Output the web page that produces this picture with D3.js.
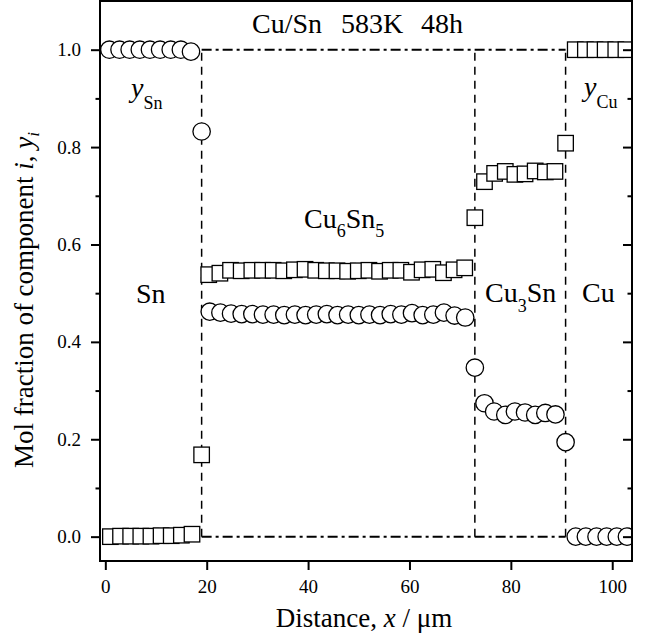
<!DOCTYPE html>
<html>
<head>
<meta charset="utf-8">
<script src="https://cdn.jsdelivr.net/npm/d3@7"></script>
<style>
  html, body { margin: 0; padding: 0; background: #fff; }
  svg { display: block; }
  text { font-family: "Liberation Serif", "Times New Roman", serif; fill: #000; }
</style>
</head>
<body>
<svg id="chart" width="652" height="638"></svg>
<script>
// ---- data ----
const xTicks = [0, 20, 40, 60, 80, 100];
const yTicks = [0.0, 0.2, 0.4, 0.6, 0.8, 1.0];
const yMinorTicks = [0.1, 0.3, 0.5, 0.7, 0.9];

const boundaries = [19.0, 72.9, 90.8];

// y_Sn (circles)
const snX = [0.8, 2.8, 4.8, 6.8, 8.8, 10.8, 12.9, 14.9, 16.9,
  19.0,
  20.6, 22.7, 24.8, 26.9, 29.0, 31.1, 33.2, 35.3, 37.4, 39.5, 41.6, 43.7, 45.8, 47.9, 50.0,
  52.1, 54.2, 56.3, 58.4, 60.5, 62.6, 64.7, 66.8, 68.9, 71.0,
  72.9,
  74.8, 76.7, 78.9, 80.8, 82.8, 84.8, 86.8, 88.8,
  90.8,
  92.8, 94.8, 96.9, 98.9, 100.9, 102.9];
const snY = [1.000, 1.000, 1.000, 1.000, 1.000, 1.000, 1.000, 1.000, 0.996,
  0.832,
  0.462, 0.460, 0.458, 0.457, 0.457, 0.456, 0.456, 0.455, 0.456, 0.455, 0.456, 0.457, 0.455, 0.456, 0.455,
  0.456, 0.455, 0.457, 0.456, 0.459, 0.455, 0.456, 0.460, 0.454, 0.450,
  0.347,
  0.274, 0.257, 0.250, 0.257, 0.255, 0.250, 0.254, 0.251,
  0.194,
  0.000, 0.000, 0.000, 0.000, 0.000, 0.000];

// y_Cu (squares)
const cuX = [1.0, 3.0, 5.0, 7.0, 9.0, 11.0, 13.0, 15.0, 17.1,
  19.0,
  20.4, 22.6, 24.7, 26.8, 28.9, 31.0, 33.1, 35.2, 37.3, 39.4, 41.5, 43.6, 45.7, 47.8, 49.9,
  52.0, 54.1, 56.2, 58.3, 60.4, 62.5, 64.6, 66.7, 68.8, 70.9,
  72.9,
  74.8, 76.8, 78.9, 80.8, 82.8, 84.8, 86.8, 88.7,
  90.8,
  92.7, 94.7, 96.6, 98.6, 100.7, 102.7];
const cuY = [0.000, 0.001, 0.001, 0.001, 0.001, 0.002, 0.002, 0.003, 0.005,
  0.168,
  0.538, 0.541, 0.547, 0.546, 0.547, 0.547, 0.547, 0.546, 0.548, 0.549, 0.547, 0.546, 0.546, 0.545, 0.546,
  0.547, 0.545, 0.547, 0.547, 0.543, 0.548, 0.549, 0.542, 0.548, 0.552,
  0.655,
  0.729, 0.746, 0.750, 0.744, 0.745, 0.751, 0.749, 0.750,
  0.808,
  1.000, 1.000, 1.000, 1.000, 1.000, 1.000];

// ---- layout ----
const svg = d3.select("#chart");
const L = 100, R = 632, T = 1, B = 561;
const x = d3.scaleLinear().domain([-1.05, 103.9]).range([L, R]);
const y = d3.scaleLinear().domain([-0.05, 1.1]).range([B, T]);

svg.append("defs").append("clipPath").attr("id", "clip")
  .append("rect").attr("x", L).attr("y", T).attr("width", R - L).attr("height", B - T);

// reference lines
const refG = svg.append("g").attr("clip-path", "url(#clip)");
[0, 1].forEach(v => {
  refG.append("line")
    .attr("x1", x(boundaries[0])).attr("x2", x(boundaries[2]))
    .attr("y1", y(v)).attr("y2", y(v))
    .attr("stroke", "#000").attr("stroke-width", 2)
    .attr("stroke-dasharray", "10,4,3,4");
});
boundaries.forEach(b => {
  refG.append("line")
    .attr("x1", x(b)).attr("x2", x(b))
    .attr("y1", y(0)).attr("y2", y(1))
    .attr("stroke", "#000").attr("stroke-width", 1.5)
    .attr("stroke-dasharray", "8,6");
});

// markers
const mG = svg.append("g").attr("clip-path", "url(#clip)");
const sq = 15.5;
mG.selectAll("rect.cu").data(d3.zip(cuX, cuY)).join("rect")
  .attr("class", "cu")
  .attr("x", d => x(d[0]) - sq / 2).attr("y", d => y(d[1]) - sq / 2)
  .attr("width", sq).attr("height", sq)
  .attr("fill", "#fff").attr("stroke", "#000").attr("stroke-width", 1.3);
mG.selectAll("circle.sn").data(d3.zip(snX, snY)).join("circle")
  .attr("class", "sn")
  .attr("cx", d => x(d[0])).attr("cy", d => y(d[1])).attr("r", 8.7)
  .attr("fill", "#fff").attr("stroke", "#000").attr("stroke-width", 1.3);

// axes
const fmt = d3.format(".1f");
const axL = svg.append("g").attr("transform", `translate(${L},0)`)
  .call(d3.axisLeft(y).tickValues(yTicks).tickFormat(fmt).tickSize(9).tickSizeOuter(0).tickPadding(10));
const axLm = svg.append("g").attr("transform", `translate(${L},0)`)
  .call(d3.axisLeft(y).tickValues(yMinorTicks).tickFormat("").tickSize(4.5).tickSizeOuter(0));
const axR = svg.append("g").attr("transform", `translate(${R},0)`)
  .call(d3.axisLeft(y).tickValues(yTicks).tickFormat("").tickSize(9).tickSizeOuter(0));
const axRm = svg.append("g").attr("transform", `translate(${R},0)`)
  .call(d3.axisLeft(y).tickValues(yMinorTicks).tickFormat("").tickSize(4.5).tickSizeOuter(0));
const axB = svg.append("g").attr("transform", `translate(0,${B})`)
  .call(d3.axisBottom(x).tickValues(xTicks).tickFormat(d3.format("d")).tickSize(9).tickSizeOuter(0).tickPadding(10));
[axL, axLm, axR, axRm, axB].forEach(g => {
  g.select(".domain").remove();
  g.selectAll(".tick line").attr("stroke", "#000").attr("stroke-width", 2);
  g.selectAll(".tick text").attr("font-family", "Liberation Serif").attr("font-size", 19).attr("fill", "#000");
});

// frame
svg.append("rect").attr("x", L).attr("y", T).attr("width", R - L).attr("height", B - T)
  .attr("fill", "none").attr("stroke", "#000").attr("stroke-width", 2);

// annotations
const fs = 28, fsSub = 18;
function label(xp, yp, parts) {
  const t = svg.append("text").attr("x", xp).attr("y", yp).attr("font-size", fs);
  parts.forEach(p => {
    const ts = t.append("tspan").text(p.t);
    if (p.i) ts.attr("font-style", "italic");
    if (p.sub) ts.attr("font-size", fsSub).attr("dy", p.dy);
    if (p.up) ts.attr("dy", p.up);
  });
  return t;
}
svg.append("text").attr("x", 252).attr("y", 33).attr("font-size", fs).text("Cu/Sn");
svg.append("text").attr("x", 341).attr("y", 33).attr("font-size", fs).text("583K");
svg.append("text").attr("x", 421).attr("y", 33).attr("font-size", fs).text("48h");

label(131, 97, [{t: "y", i: true}, {t: "Sn", sub: true, dy: 12}]);
label(584, 96, [{t: "y", i: true}, {t: "Cu", sub: true, dy: 12}]);
label(304, 228, [{t: "Cu"}, {t: "6", sub: true, dy: 9}, {t: "Sn", up: -9}, {t: "5", sub: true, dy: 9}]);
label(136, 303, [{t: "Sn"}]);
label(485, 302, [{t: "Cu"}, {t: "3", sub: true, dy: 10}, {t: "Sn", up: -10}]);
label(582, 302, [{t: "Cu"}]);

// axis titles
const xt = svg.append("text").attr("x", 364).attr("y", 627).attr("font-size", 27).attr("text-anchor", "middle");
xt.append("tspan").text("Distance, ");
xt.append("tspan").attr("font-style", "italic").text("x");
xt.append("tspan").text(" / μm");

const yt = svg.append("text").attr("transform", "translate(33,300) rotate(-90)")
  .attr("font-size", 27).attr("text-anchor", "middle");
yt.append("tspan").text("Mol fraction of component ");
yt.append("tspan").attr("font-style", "italic").text("i");
yt.append("tspan").text(", ");
yt.append("tspan").attr("font-style", "italic").text("y");
yt.append("tspan").attr("font-style", "italic").attr("font-size", 17).attr("dy", 6).text("i");
</script>
</body>
</html>
